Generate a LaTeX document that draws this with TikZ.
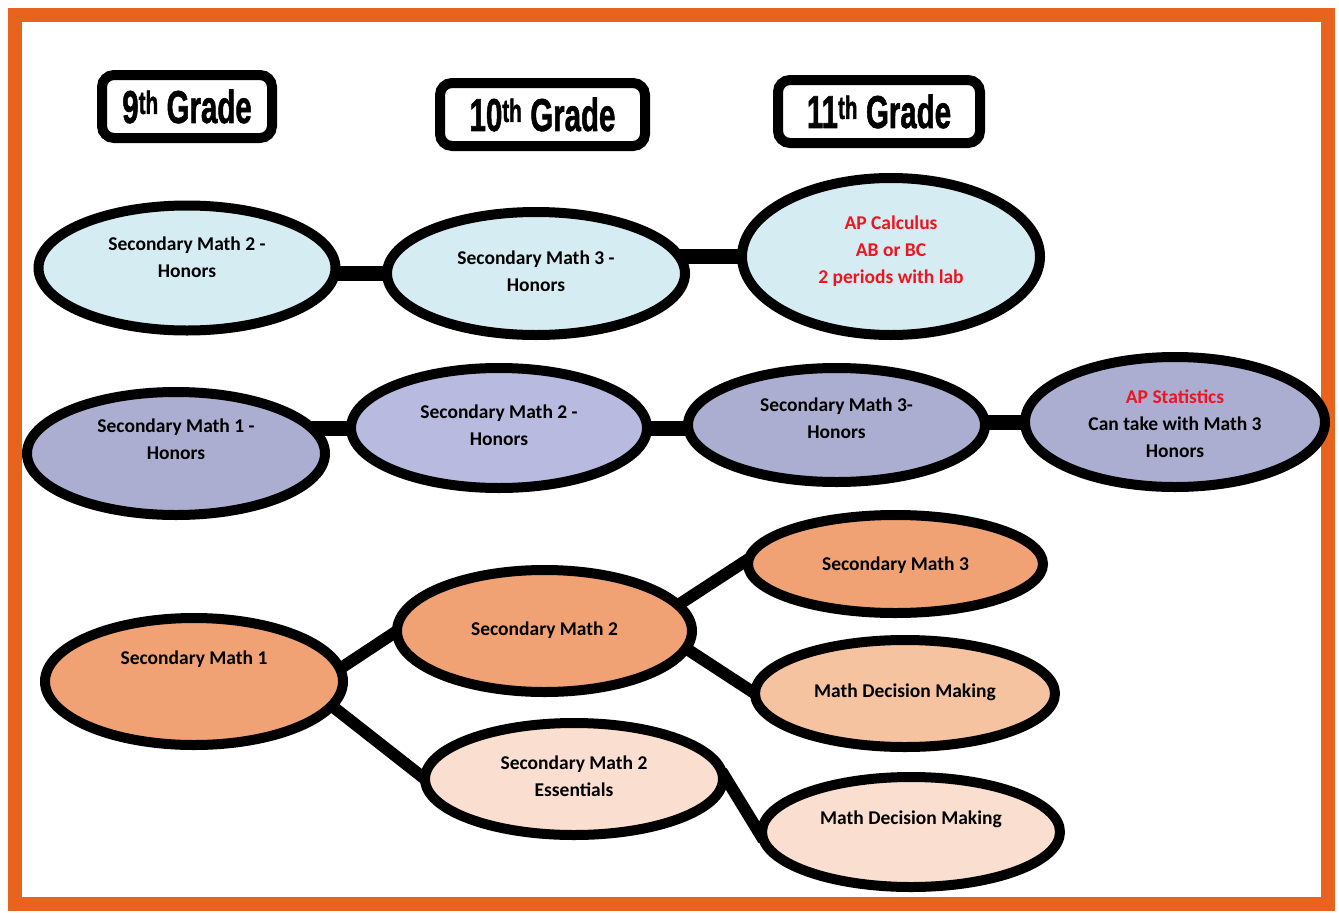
\documentclass[tikz,border=0pt]{standalone}
\usepackage{fontspec}
\setmainfont{Carlito}
\newfontfamily\gradefont{Liberation Sans}[BoldFeatures={FakeBold=1.6}]
\usetikzlibrary{shapes.geometric,backgrounds}
\definecolor{frameorange}{RGB}{232,100,30}
\definecolor{lblue}{RGB}{213,236,242}
\definecolor{lav}{RGB}{171,174,208}
\definecolor{lavlight}{RGB}{184,186,224}
\definecolor{peach}{RGB}{240,162,116}
\definecolor{peachmid}{RGB}{245,195,160}
\definecolor{peachlight}{RGB}{250,223,208}
\definecolor{apred}{RGB}{240,20,30}
\newcommand{\tx}[2]{\raisebox{#1}[0pt][0pt]{\begin{tabular}{@{}c@{}}#2\end{tabular}}}
\newcommand{\gradetext}[3]{\raisebox{-4pt}{\scalebox{#3}[1]{\gradefont\bfseries\fontsize{46}{46}\selectfont #1\textsuperscript{th} #2}}}
\tikzset{
  ell/.style={ellipse, draw=black, line width=10pt, inner sep=0pt, outer sep=0pt,
              font=\bfseries\fontsize{19.5}{27}\selectfont},
  gradebox/.style={rectangle, rounded corners=12pt, draw=black, fill=white, line width=10pt,
                   inner sep=0pt, minimum height=63pt},
  link/.style={line width=15pt},
  branch/.style={line width=12pt},
}
\begin{document}
\begin{tikzpicture}[x=1pt,y=-1pt]
\useasboundingbox (0,0) rectangle (1339,913);
\begin{scope}[on background layer]
\fill[white] (0,0) rectangle (1339,913);
\end{scope}
\draw[frameorange, line width=14pt] (15,15) rectangle (1328,904);

% grade headers
\node[gradebox, minimum width=170pt] (g9) at (187,106.5) {\gradetext{9}{Grade}{0.64}};
\node[gradebox, minimum width=205pt] (g10) at (542.5,114.5) {\gradetext{10}{Grade}{0.64}};
\node[gradebox, minimum width=202pt] (g11) at (879,111.5) {\gradetext{11}{Grade}{0.64}};

% row 1
\node[ell, fill=lblue, minimum width=297pt, minimum height=125pt] (A1) at (187,268) {\tx{4pt}{Secondary Math 2 -\\Honors}};
\node[ell, fill=lblue, minimum width=298pt, minimum height=123pt] (A2) at (536,273.5) {\tx{-4pt}{Secondary Math 3 -\\Honors}};
\node[ell, fill=lblue, minimum width=298pt, minimum height=157pt] (A3) at (891,256.5) {\tx{0pt}{\color{apred}AP Calculus\\\color{apred}AB or BC\\\color{apred}2 periods with lab}};

% row 2
\node[ell, fill=lav, minimum width=298pt, minimum height=123pt] (B1) at (176,453.5) {\tx{8pt}{Secondary Math 1 -\\Honors}};
\node[ell, fill=lavlight, minimum width=296pt, minimum height=120pt] (B2) at (499,428) {\tx{-4pt}{Secondary Math 2 -\\Honors}};
\node[ell, fill=lav, minimum width=297pt, minimum height=114pt] (B3) at (836.5,425) {\tx{0pt}{Secondary Math 3-\\Honors}};
\node[ell, fill=lav, minimum width=300pt, minimum height=130pt] (B4) at (1175,422) {\tx{-8pt}{\color{apred}AP Statistics\\Can take with Math 3\\Honors}};

% row 3
\node[ell, fill=peach, minimum width=298pt, minimum height=127pt] (C1) at (194,681.5) {\tx{17pt}{Secondary Math 1}};
\node[ell, fill=peach, minimum width=295pt, minimum height=122pt] (C2) at (544.5,631) {\tx{-4pt}{Secondary Math 2}};
\node[ell, fill=peach, minimum width=295pt, minimum height=98pt] (C3) at (895.5,564) {\tx{-6pt}{Secondary Math 3}};
\node[ell, fill=peachmid, minimum width=300pt, minimum height=107pt] (C4) at (905,693.5) {\tx{-4pt}{Math Decision Making}};
\node[ell, fill=peachlight, minimum width=298pt, minimum height=112pt] (C5) at (574,779) {\tx{-4pt}{Secondary Math 2\\Essentials}};
\node[ell, fill=peachlight, minimum width=298pt, minimum height=110pt] (C6) at (911,832) {\tx{8pt}{Math Decision Making}};

\begin{scope}[on background layer]
\draw[link] (A1.center |- A2.west) -- (A2.west);
\draw[link] (A3.west -| A2.center) -- (A3.west);
\draw[link] (B1.center |- B2.west) -- (B2.west);
\draw[link] (B2.east) -- (B2.east -| B3.center);
\draw[link] (B4.west -| B3.center) -- (B4.west);
\draw[branch] (C1.5) -- (C2.west);
\draw[branch] (C1.-10) -- (C5.west);
\draw[branch] (C2.11) -- (C3.178);
\draw[branch] (C2.-7) -- (C4.west);
\draw[branch] (C5.3) -- (C6.183);
\end{scope}
\end{tikzpicture}
\end{document}
